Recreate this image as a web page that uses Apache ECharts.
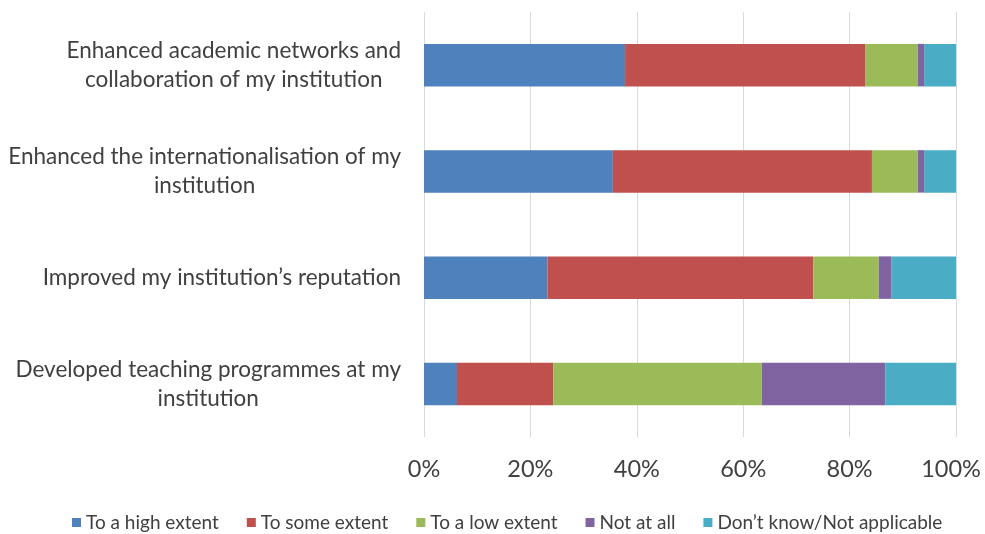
<!DOCTYPE html>
<html>
<head>
<meta charset="utf-8">
<script src="https://cdn.jsdelivr.net/npm/echarts@6/dist/echarts.min.js"></script>
<style>
  html, body { margin: 0; padding: 0; background: #fff; }
  #chart { width: 985px; height: 534px; }
</style>
</head>
<body>
<div id="chart"></div>
<script>
// Survey statements, listed top to bottom
const categories = [
  'Enhanced academic networks and\ncollaboration of my institution',
  'Enhanced the internationalisation of my\ninstitution',
  'Improved my institution\u2019s reputation',
  'Developed teaching programmes at my\ninstitution'
];

const seriesNames = [
  'To a high extent',
  'To some extent',
  'To a low extent',
  'Not at all',
  'Don\u2019t know/Not applicable'
];

// Share of respondents (%) per answer, same order as categories
const highExtent   = [37.8, 35.5, 23.2, 6.2];
const someExtent   = [45.2, 48.7, 50.0, 18.1];
const lowExtent    = [9.8, 8.6, 12.3, 39.2];
const notAtAll     = [1.2, 1.2, 2.4, 23.2];
const dontKnow     = [6.0, 6.0, 12.1, 13.3];

const xTicks = [0, 20, 40, 60, 80, 100];

const colors = ['#4F81BD', '#C0504D', '#9BBB59', '#8064A2', '#4BACC6'];
const values = [highExtent, someExtent, lowExtent, notAtAll, dontKnow];

const FONT = 'Lato';
const TEXT = '#404040';
const X_MAX = xTicks[xTicks.length - 1];
const chart = echarts.init(document.getElementById('chart'), null, { renderer: 'canvas' });

chart.setOption({
  animation: false,
  color: colors,
  grid: { left: 424, right: 29, top: 12, bottom: 97, outerBoundsMode: 'none', containLabel: false },
  xAxis: {
    type: 'value',
    min: xTicks[0],
    max: X_MAX,
    interval: 20,
    axisLine: { show: false },
    axisTick: { show: false },
    splitLine: { show: true, lineStyle: { color: '#D9D9D9', width: 1 } },
    axisLabel: {
      // the last label is nudged left so it stays inside the canvas
      formatter: v => v === X_MAX ? '{m|' + v + '%}' : v + '%',
      color: TEXT,
      fontFamily: FONT,
      fontSize: 23.5,
      margin: 20,
      rich: {
        m: { color: TEXT, fontFamily: FONT, fontSize: 23.5, padding: [0, 10, 0, 0] }
      }
    }
  },
  yAxis: {
    type: 'category',
    inverse: true,
    data: categories,
    axisLine: { show: false },
    axisTick: { show: false },
    axisLabel: {
      align: 'right',
      margin: 23,
      lineHeight: 29,
      // each line is centred within the label block
      formatter: v => v.split('\n').map(l => '{c|' + l + '}').join('\n'),
      rich: {
        c: {
          align: 'center',
          color: TEXT,
          fontFamily: FONT,
          fontSize: 22.5,
          lineHeight: 29
        }
      }
    }
  },
  legend: {
    left: 72,
    top: 513,
    padding: 0,
    itemWidth: 9,
    itemHeight: 9,
    itemGap: 28,
    icon: 'rect',
    textStyle: { color: TEXT, fontFamily: FONT, fontSize: 19 },
    data: seriesNames
  },
  series: seriesNames.map((name, i) => ({
    name: name,
    type: 'bar',
    stack: 'total',
    barWidth: '40%',
    data: values[i],
    itemStyle: { color: colors[i] }
  }))
});
</script>
</body>
</html>
